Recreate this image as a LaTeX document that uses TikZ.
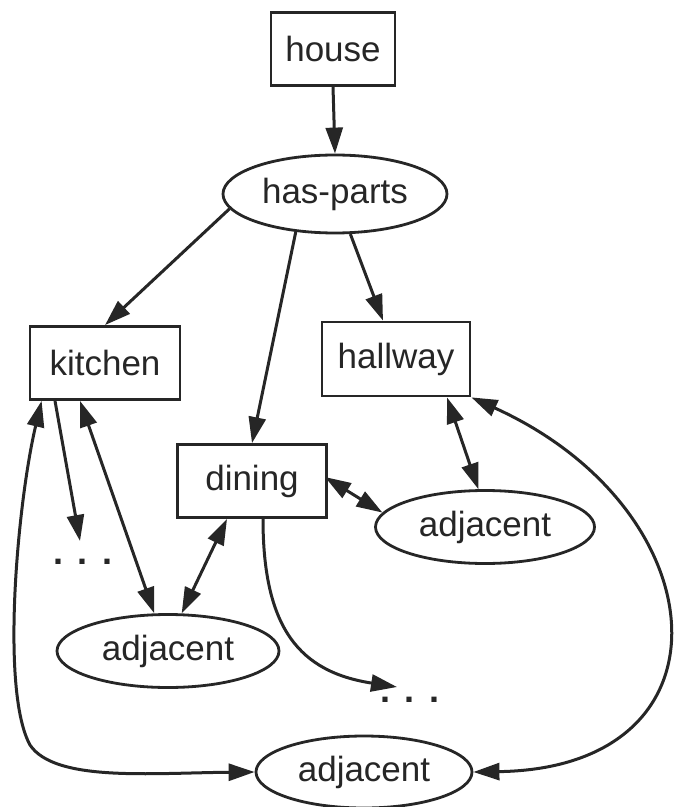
\documentclass[tikz,border=0pt]{standalone}
\usepackage{fontspec}
\setmainfont{Liberation Sans}
\usetikzlibrary{arrows.meta,shapes.geometric,calc}
\definecolor{ink}{HTML}{262626}
\begin{document}
\begin{tikzpicture}[x=0.5pt,y=-0.5pt,
  every node/.style={font=\fontsize{17.5}{20}\selectfont, text=ink},
  concept/.style={draw=ink, line width=1.4pt, rectangle, inner sep=0pt},
  relation/.style={draw=ink, line width=1.4pt, ellipse, inner sep=0pt},
  tip/.tip={Triangle[length=13pt,width=8.5pt]},
  link/.style={draw=ink, line width=1.5pt, -tip},
  twoway/.style={draw=ink, line width=1.5pt, tip-tip},
  dotrow/.style={inner sep=0pt, font=\fontsize{18}{20}\bfseries}]
\useasboundingbox (0,0) rectangle (676,807);

% frame nodes
\node[concept, minimum width=62pt, minimum height=36.5pt] (house) at (333,49) {house};
\node[relation, minimum width=112pt, minimum height=39pt] (hp) at (335,194) {has-parts};
\node[concept, minimum width=75pt, minimum height=36.5pt] (kitchen) at (105,363) {kitchen};
\node[concept, minimum width=74pt, minimum height=37pt] (hall) at (396,359) {hallway};
\node[concept, minimum width=74.5pt, minimum height=36.5pt] (dining) at (252,481) {dining};
\node[relation, minimum width=109.5pt, minimum height=36.5pt] (adjR) at (485,527) {adjacent};
\node[relation, minimum width=111pt, minimum height=36.5pt] (adjL) at (168,651) {adjacent};
\node[relation, minimum width=108pt, minimum height=36pt] (adjB) at (364,772) {adjacent};

% elided slots
\node[dotrow] (dotsL) at (83,562) {.\hspace{7.3pt}.\hspace{7.3pt}.};
\node[dotrow] (dotsB) at (410,700) {.\hspace{7.3pt}.\hspace{7.3pt}.};
\coordinate (endL) at ($(dotsL)+(-3,-21)$);
\coordinate (endB) at ($(dotsB)+(-13,-13)$);

% part-of links
\draw[link] (house.south) -- (hp.north);
\draw[link] (hp.188) -- (kitchen.north);
\draw[link] (hp.224) -- (dining.north);
\draw[link] (hp.291) -- ($(hall.north)+(-13,0)$);

% kitchen slots
\draw[link] ($(kitchen.south)+(-50,0)$) -- (endL);
\draw[twoway] ($(kitchen.south)+(-25,0)$) -- (adjL.110);
\draw[twoway] ($(dining.south)+(-25,0)$) -- (adjL.70);

% dining and hallway adjacency
\draw[twoway] ($(dining.east)+(-3,-4)$) -- (adjR.172);
\draw[twoway] ($(hall.south)+(51,0)$) -- (adjR.100);

% dining continues
\draw[link] ($(dining.south)+(11,0)$) .. controls ($(dining.south)+(11,110)$) and (300,672) .. (endB);

% long adjacency arcs
\draw[twoway] (hall.south east) .. controls (720,510) and (740,768) .. (adjB.east);
\draw[twoway] ($(kitchen.south west)+(13,0)$) .. controls (18,500) and (0,690) .. (30,745)
  .. controls (55,782) and (150,773) .. (adjB.west);
\end{tikzpicture}
\end{document}
